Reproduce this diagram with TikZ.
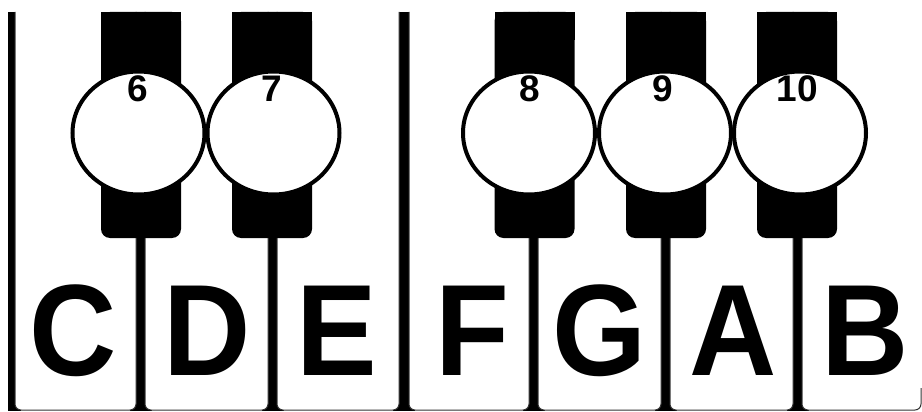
\documentclass[tikz,border=0pt]{standalone}
\usepackage{fontspec}
\setmainfont{Liberation Sans}
\usetikzlibrary{shapes.geometric}
\begin{document}
\begin{tikzpicture}[x=1pt,y=-1pt,
  wkey/.style={fill=white,draw=black!80,line width=1pt,rounded corners=6pt},
  bkfill/.style={fill=black},
  hole/.style={ellipse,draw=black,fill=white,line width=4pt,minimum width=132pt,minimum height=123pt,inner sep=0pt},
  num/.style={font=\bfseries\fontsize{37}{37}\selectfont,anchor=base,inner sep=0pt},
  letter/.style={font=\bfseries\fontsize{130}{130}\selectfont,anchor=base,inner sep=0pt,xscale=0.93}]
\useasboundingbox (0,0) rectangle (922,412);
% separators and stems (black behind the white keys)
\fill[bkfill] (8,12) rectangle (15,411);
\fill[bkfill] (399,12) rectangle (409,411);
\foreach \sx in {140.5,272.5,533.5,665.5,797.5}{
  \fill[bkfill] (\sx-4.5,230) rectangle (\sx+4.5,411);
  \fill[bkfill] (\sx-11,403) rectangle (\sx+11,411);
}
\fill[bkfill] (8,403) rectangle (21,411);
\fill[bkfill] (393,403) rectangle (415,411);
% white keys
\draw[wkey] (15,12) -- (15,410) -- (136,410) -- (136,12);
\draw[wkey] (145,12) -- (145,410) -- (268,410) -- (268,12);
\draw[wkey] (277,12) -- (277,410) -- (399,410) -- (399,12);
\draw[wkey] (409,12) -- (409,410) -- (529,410) -- (529,12);
\draw[wkey] (538,12) -- (538,410) -- (661,410) -- (661,12);
\draw[wkey] (670,12) -- (670,410) -- (793,410) -- (793,12);
\draw[wkey] (802,238) -- (802,410) -- (921,410) -- (921,388);
% black keys
\foreach \bx in {141,272,534.5,666,797}{
  \fill[bkfill,rounded corners=9pt] (\bx-40,12) rectangle (\bx+40,238);
  \fill[bkfill] (\bx-40,12) rectangle (\bx+40,40);
}
% holes
\node[hole] (h6) at (138.5,133) {};
\node[hole] (h7) at (273.5,133) {};
\node[hole] (h8) at (529,133) {};
\node[hole] (h9) at (665,133) {};
\node[hole] (h10) at (800,133) {};
% numbers
\node[num] (n6) at (138,102) {6};
\node[num] (n7) at (272,102) {7};
\node[num] (n8) at (530,102) {8};
\node[num] (n9) at (663,102) {9};
\node[num] (n10) at (797,102) {10};
% letters
\node[letter] (lC) at (73,375) {C};
\node[letter] (lD) at (207,375) {D};
\node[letter] (lE) at (337,375) {E};
\node[letter] (lF) at (472,375) {F};
\node[letter] (lG) at (600,375) {G};
\node[letter] (lA) at (733,375) {A};
\node[letter] (lB) at (865,375) {B};
\end{tikzpicture}
\end{document}
